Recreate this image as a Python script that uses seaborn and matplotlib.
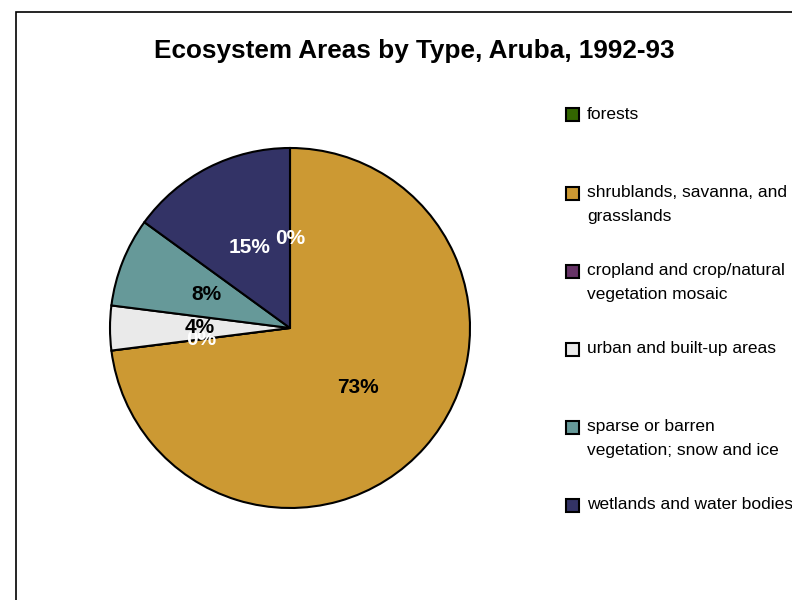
import numpy as np
import pandas as pd
import matplotlib.pyplot as plt
import seaborn as sns
from matplotlib.patches import Rectangle
from matplotlib.legend_handler import HandlerPatch


# dados do gráfico
categorias = ["forests", "shrublands, savanna, and\ngrasslands",
              "cropland and crop/natural\nvegetation mosaic",
              "urban and built-up areas", "sparse or barren\nvegetation; snow and ice",
              "wetlands and water bodies"]
percentuais = [0, 73, 0, 4, 8, 15]
cores = ["#336600", "#CC9933", "#663366", "#EAEAEA", "#669999", "#333366"]
cor_texto = ["white", "black", "white", "black", "black", "white"]

df = pd.DataFrame({"tipo": categorias, "pct": percentuais})

sns.set_theme(style="white")
plt.rcParams["font.family"] = ["Liberation Sans", "DejaVu Sans"]
plt.rcParams["text.color"] = "black"

fig = plt.figure(figsize=(7.92, 6), dpi=100)
W, H = 792, 600

# borda do gráfico
fig.patches.append(Rectangle((16 / W, -0.1), 1.2, 1.1 - 12 / H, transform=fig.transFigure,
                             fill=False, edgecolor="black", linewidth=1.2))

cx, cy, r = 290, 328, 180
ax = fig.add_axes([(cx - r) / W, (H - cy - r) / H, 2 * r / W, 2 * r / H])

wedges, textos = ax.pie(df["pct"], colors=cores, startangle=90, counterclock=False,
                        labels=[f"{p}%" for p in df["pct"]], labeldistance=0.5,
                        wedgeprops=dict(edgecolor="black", linewidth=1.5),
                        textprops=dict(fontsize=15, fontweight="bold"))
for t, c in zip(textos, cor_texto):
    t.set_color(c)
    t.set_horizontalalignment("center")
    t.set_verticalalignment("center")
ax.set_xlim(-1, 1)
ax.set_ylim(-1, 1)
ax.set_aspect("equal")
ax.axis("off")

fig.text(414 / W, 1 - 51 / H, "Ecosystem Areas by Type, Aruba, 1992-93",
         ha="center", va="center", fontsize=18.8, fontweight="bold", color="black")


def quadrado(legend, orig_handle, xdescent, ydescent, width, height, fontsize):
    lado = 0.75 * fontsize
    return Rectangle((xdescent, height - lado - 0.55 * fontsize), lado, lado)


rotulos = [c if "\n" in c else c + "\n " for c in categorias]
leg = fig.legend(wedges, rotulos, loc="upper left",
                 bbox_to_anchor=(566 / W, 1 - 107 / H), frameon=False,
                 fontsize=12.5, borderpad=0, borderaxespad=0,
                 handlelength=0.75, handleheight=2.6, handletextpad=0.45,
                 labelspacing=2.25,
                 handler_map={w: HandlerPatch(patch_func=quadrado) for w in wedges})
for t in leg.get_texts():
    t.set_linespacing(1.75)
    t.set_color("black")
for h in leg.legend_handles:
    h.set_edgecolor("black")
    h.set_linewidth(1.5)

fig.savefig("out.png", dpi=100)
